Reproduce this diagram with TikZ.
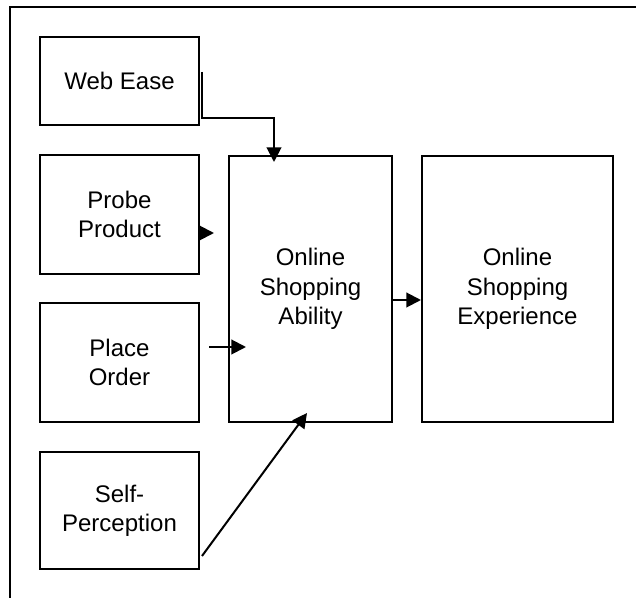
\documentclass[tikz,border=0pt]{standalone}
\usepackage{fontspec}
\setmainfont{Liberation Sans}
\usetikzlibrary{arrows.meta}

\begin{document}
\begin{tikzpicture}[x=0.75pt, y=-0.75pt, line width=1.5pt, >={Triangle[length=11pt,width=11pt]},
  every node/.style={font=\fontsize{18}{22}\selectfont, align=center},
  box/.style={draw, inner sep=0pt, minimum width=#1*0.75pt}]
  \useasboundingbox (0,0) rectangle (636,598);
  \draw[line width=1.8pt] (10,598) -- (10,7) -- (636,7);
  \node[box=159, minimum height=66pt] (ease) at (119.5,81) {Web Ease};
  \node[box=159, minimum height=89.25pt] (probe) at (119.5,214.5) {Probe\\Product};
  \node[box=159, minimum height=89.25pt] (place) at (119.5,362.5) {Place\\Order};
  \node[box=159, minimum height=87.75pt] (self) at (119.5,510.5) {Self-\\Perception};
  \node[box=163, minimum height=199.5pt] (ability) at (310.5,289) {Online\\Shopping\\Ability};
  \node[box=191, minimum height=199.5pt] (exper) at (517.5,289) {Online\\Shopping\\Experience};
  \draw[->] ([shift={(2,-9)}]ease.east) -- ++(0,46) -| ([shift={(-36.5,7)}]ability.north);
  \draw[->] ([shift={(0,18.5)}]probe.east) -- ++(14,0);
  \draw[->] ([shift={(9,-15.5)}]place.east) -- ([shift={(18,58)}]ability.west);
  \draw[->] ([shift={(2,45.5)}]self.east) -- ([shift={(-3.5,-10)}]ability.south);
  \draw[->] ([shift={(0,11)}]ability.east) -- ([shift={(0,11)}]exper.west);
\end{tikzpicture}
\end{document}
